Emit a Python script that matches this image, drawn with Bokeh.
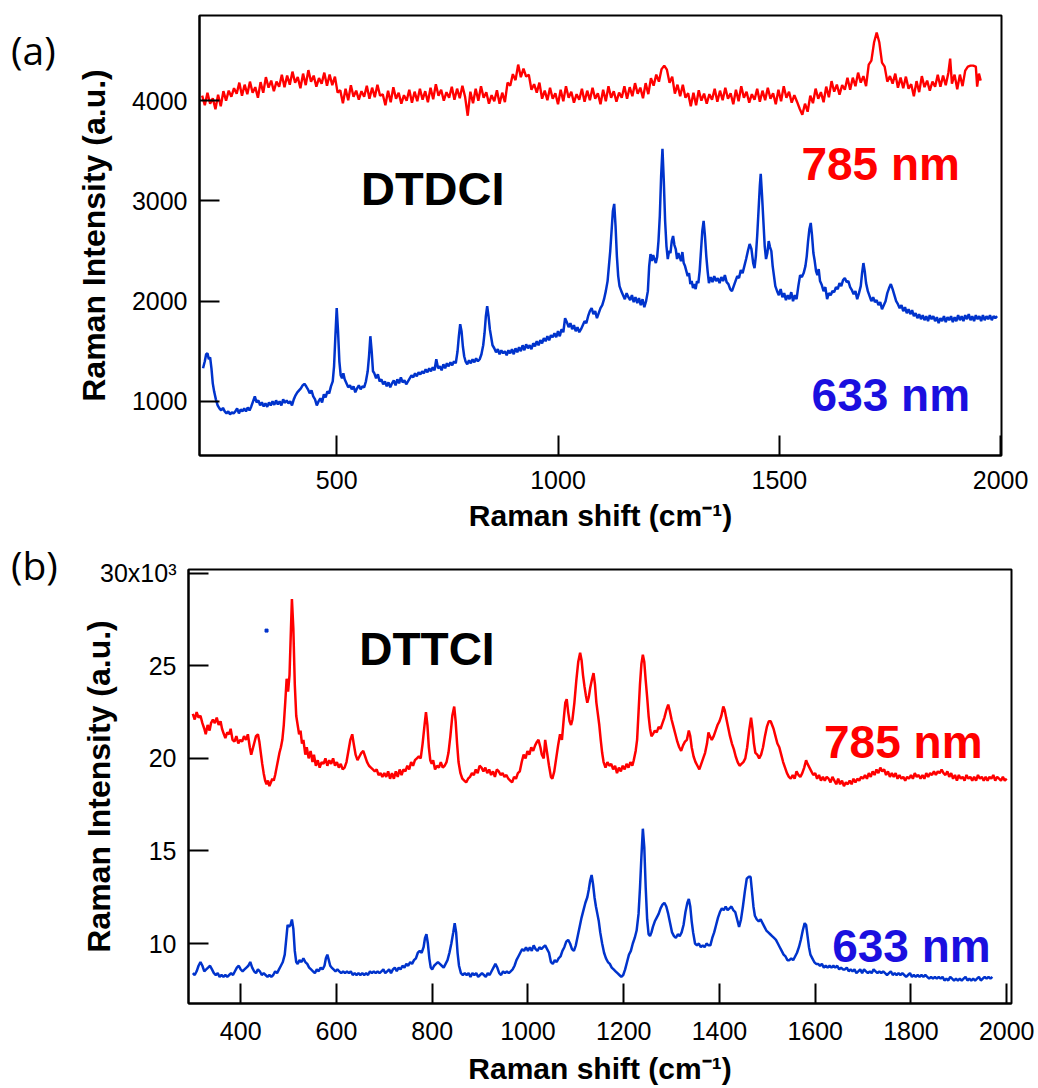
import math
from bokeh.plotting import figure
from bokeh.models import FixedTicker, Label, CustomJSTickFormatter, Range1d, Div, Title
from bokeh.layouts import row
from bokeh.embed import file_html
from bokeh.resources import INLINE

# ---------------- data ----------------
# Panel (a) DTDCI: Raman shift (cm-1) vs intensity (a.u.)
red_a = [(196,4050),(202,3955),(208,4080),(214,3970),(220,4025),(226,3915),(232,4060),(238,3945),(244,4095),(250,4000),
 (256,4100),(262,4040),(268,4125),(274,4070),(280,4180),(286,4050),(292,4160),(298,4065),(304,4190),(310,4080),
 (316,4135),(322,4030),(328,4185),(334,4080),(340,4235),(346,4130),(352,4200),(358,4095),(364,4190),(370,4140),
 (376,4260),(382,4135),(388,4250),(394,4160),(400,4290),(406,4180),(412,4235),(418,4125),(424,4270),(430,4155),
 (436,4305),(442,4190),(448,4250),(454,4140),(460,4225),(466,4170),(472,4280),(478,4150),(484,4260),(490,4155),
 (496,4240),(502,4080),(508,4105),(514,3975),(520,4120),(526,4005),(532,4155),(538,4040),(544,4100),(550,4010),
 (556,4095),(562,4040),(568,4150),(574,4020),(580,4130),(586,4035),(592,4160),(598,4050),(604,4065),(610,3955),
 (616,4100),(622,3985),(628,4135),(634,4020),(640,4080),(646,3970),(652,4055),(658,4000),(664,4110),(670,3980),
 (676,4090),(682,3995),(688,4120),(694,4010),(700,4095),(706,3985),(712,4130),(718,4015),(724,4165),(730,4050),
 (736,4110),(742,4000),(748,4085),(754,4030),(760,4140),(766,4010),(772,4120),(778,4025),(784,4150),(790,4040),
 (796,3850),(802,4090),(808,3975),(814,4120),(820,4000),(826,4145),(832,4030),(838,4085),(844,3970),(850,4055),
 (856,3995),(862,4105),(868,3970),(874,4080),(880,3985),(886,4180),(892,4150),(898,4265),(904,4205),(910,4360),
 (916,4235),(922,4320),(928,4240),(934,4260),(940,4110),(946,4165),(952,4080),(958,4180),(964,4020),(970,4100),
 (976,4005),(982,4130),(988,4020),(994,4075),(1000,3965),(1006,4110),(1012,3995),(1018,4145),(1024,4030),(1030,4090),
 (1036,3980),(1042,4065),(1048,4010),(1054,4120),(1060,3990),(1066,4100),(1072,4005),(1078,4130),(1084,4020),(1090,4075),
 (1096,3965),(1102,4110),(1108,3995),(1114,4145),(1120,4030),(1126,4095),(1132,3990),(1138,4080),(1144,4030),(1150,4145),
 (1156,4020),(1162,4135),(1168,4045),(1174,4175),(1180,4070),(1186,4130),(1192,4025),(1198,4175),(1204,4065),(1210,4225),
 (1216,4150),(1222,4260),(1228,4190),(1234,4315),(1240,4350),(1246,4310),(1252,4180),(1258,4240),(1264,4070),(1270,4160),
 (1276,4045),(1282,4160),(1288,4030),(1294,4075),(1300,3945),(1306,4080),(1312,3955),(1318,4105),(1324,4000),(1330,4070),
 (1336,3970),(1342,4065),(1348,4010),(1354,4120),(1360,3990),(1366,4100),(1372,4005),(1378,4130),(1384,4020),(1390,4075),
 (1396,3965),(1402,4110),(1408,3995),(1414,4145),(1420,4030),(1426,4090),(1432,3980),(1438,4065),(1444,4010),(1450,4120),
 (1456,3990),(1462,4100),(1468,4005),(1474,4130),(1480,4020),(1486,4075),(1492,3965),(1498,4110),(1504,3995),(1510,4145),
 (1516,4030),(1522,4090),(1528,3980),(1534,4055),(1540,3990),(1546,3920),(1552,3860),(1558,3970),(1564,3890),(1570,4050),
 (1576,3975),(1582,4120),(1588,4020),(1594,4085),(1600,3985),(1606,4140),(1612,4035),(1618,4195),(1624,4090),(1630,4160),
 (1636,4060),(1642,4155),(1648,4110),(1654,4230),(1660,4110),(1666,4230),(1672,4145),(1678,4280),(1684,4180),(1690,4245),
 (1696,4145),(1702,4360),(1708,4400),(1714,4580),(1720,4680),(1726,4580),(1732,4380),(1738,4340),(1744,4190),(1750,4245),
 (1756,4170),(1762,4270),(1768,4130),(1774,4230),(1780,4125),(1786,4240),(1792,4120),(1798,4165),(1804,4045),(1810,4195),
 (1816,4085),(1822,4245),(1828,4135),(1834,4200),(1840,4100),(1846,4190),(1852,4140),(1858,4260),(1864,4140),(1870,4250),
 (1876,4155),(1882,4280),(1886,4420),(1890,4170),(1896,4260),(1902,4115),(1908,4260),(1914,4145),(1920,4300),(1926,4340),
 (1932,4350),(1938,4350),(1944,4340),(1947,4140),(1951,4270),(1955,4200)]

blue_a = [(198,1330),(202,1400),(205,1470),(208,1480),(211,1420),(214,1440),(217,1330),(220,1180),(223,1100),(227,1020),
 (231,960),(235,930),(239,910),(243,935),(247,900),(251,880),(255,900),(259,870),(263,890),(267,880),
 (271,900),(275,930),(279,880),(283,920),(287,900),(291,930),(295,900),(299,940),(303,910),(307,950),
 (311,1000),(315,1050),(319,990),(323,1010),(327,960),(331,990),(335,950),(339,980),(343,945),(347,990),
 (351,960),(355,1000),(359,965),(363,1010),(367,970),(371,1000),(375,960),(379,1020),(383,985),(387,1010),
 (391,980),(395,1000),(399,960),(403,1020),(407,1060),(411,1090),(415,1110),(419,1130),(423,1160),(427,1175),
 (431,1150),(435,1120),(439,1080),(443,1110),(447,1050),(451,1020),(455,960),(459,1000),(463,1030),(467,990),
 (471,1070),(475,1040),(479,1100),(483,1080),(487,1150),(491,1200),(494,1350),(497,1650),(500,1930),(503,1700),
 (506,1400),(509,1260),(512,1230),(515,1280),(518,1220),(522,1180),(526,1140),(530,1160),(534,1120),(538,1150),
 (542,1090),(546,1130),(550,1160),(554,1120),(558,1150),(562,1140),(566,1200),(570,1300),(573,1450),(576,1650),
 (579,1500),(582,1300),(585,1280),(589,1230),(593,1270),(597,1200),(601,1220),(605,1170),(609,1200),(613,1150),
 (617,1190),(621,1140),(625,1180),(629,1210),(633,1160),(637,1220),(641,1180),(645,1240),(649,1190),(653,1210),
 (657,1170),(661,1200),(665,1230),(669,1260),(673,1240),(677,1280),(681,1250),(685,1290),(689,1270),(693,1300),
 (697,1280),(701,1320),(705,1290),(709,1330),(713,1300),(717,1340),(721,1310),(725,1420),(729,1330),(733,1350),
 (737,1310),(741,1370),(745,1330),(749,1380),(753,1350),(757,1390),(761,1360),(765,1400),(769,1380),(773,1500),
 (776,1650),(779,1770),(782,1700),(785,1550),(788,1450),(791,1400),(795,1370),(799,1410),(803,1380),(807,1420),
 (811,1390),(815,1430),(819,1400),(823,1420),(827,1470),(831,1560),(834,1680),(837,1850),(840,1950),(843,1850),
 (846,1720),(849,1640),(852,1560),(856,1530),(860,1490),(864,1520),(868,1470),(872,1510),(876,1480),(880,1500),
 (884,1460),(888,1510),(892,1480),(896,1520),(900,1470),(904,1530),(908,1490),(912,1540),(916,1500),(920,1560),
 (924,1510),(928,1570),(932,1530),(936,1560),(940,1520),(944,1580),(948,1550),(952,1600),(956,1560),(960,1610),
 (964,1580),(968,1630),(972,1600),(976,1650),(980,1610),(984,1660),(988,1640),(992,1680),(996,1640),(1000,1700),
 (1004,1650),(1008,1720),(1012,1690),(1016,1830),(1020,1790),(1024,1740),(1028,1780),(1032,1720),(1036,1760),(1040,1700),
 (1044,1740),(1048,1690),(1052,1720),(1056,1760),(1060,1800),(1064,1780),(1068,1850),(1072,1900),(1076,1930),(1080,1870),
 (1084,1900),(1088,1830),(1092,1880),(1096,1930),(1100,1960),(1104,2020),(1108,2100),(1112,2200),(1115,2350),(1118,2500),
 (1121,2700),(1124,2900),(1127,2970),(1130,2750),(1133,2450),(1136,2250),(1139,2150),(1143,2100),(1147,2060),(1151,2020),
 (1155,2080),(1159,2040),(1163,2010),(1167,2060),(1171,1990),(1175,2040),(1179,1980),(1183,2030),(1187,1960),(1191,2020),
 (1195,1940),(1199,2000),(1203,2100),(1206,2350),(1209,2470),(1212,2400),(1215,2460),(1218,2420),(1221,2380),(1224,2440),
 (1227,2600),(1230,2850),(1233,3250),(1236,3520),(1239,3200),(1242,2800),(1245,2550),(1248,2420),(1251,2500),(1254,2480),
 (1257,2600),(1260,2650),(1263,2560),(1266,2520),(1269,2420),(1272,2480),(1275,2440),(1278,2400),(1281,2490),(1284,2380),
 (1287,2350),(1290,2300),(1293,2250),(1296,2280),(1299,2170),(1302,2200),(1305,2130),(1308,2170),(1311,2120),(1314,2200),
 (1317,2180),(1320,2300),(1323,2500),(1326,2700),(1329,2800),(1332,2650),(1335,2450),(1338,2300),(1341,2180),(1345,2240),
 (1349,2190),(1353,2250),(1357,2200),(1361,2230),(1365,2180),(1369,2240),(1373,2200),(1377,2260),(1381,2190),(1385,2170),
 (1389,2120),(1393,2100),(1397,2150),(1401,2200),(1405,2250),(1409,2230),(1413,2310),(1417,2280),(1421,2350),(1425,2420),
 (1429,2500),(1433,2570),(1437,2520),(1441,2380),(1444,2330),(1447,2450),(1450,2650),(1453,2900),(1456,3150),(1458,3270),
 (1461,3050),(1464,2800),(1467,2550),(1470,2420),(1473,2480),(1476,2600),(1479,2540),(1482,2500),(1485,2350),(1488,2250),
 (1491,2150),(1495,2100),(1499,2060),(1503,2120),(1507,2040),(1511,2080),(1515,2010),(1519,2060),(1523,2020),(1527,2090),
 (1531,2000),(1535,2060),(1539,2020),(1543,2150),(1547,2260),(1551,2240),(1555,2280),(1559,2350),(1562,2450),(1565,2600),
 (1568,2720),(1571,2780),(1574,2650),(1577,2480),(1580,2400),(1583,2300),(1586,2260),(1589,2320),(1592,2200),(1596,2160),
 (1600,2100),(1604,2140),(1608,2020),(1612,2080),(1616,2060),(1620,2100),(1624,2090),(1628,2140),(1632,2120),(1636,2180),
 (1640,2150),(1644,2210),(1648,2230),(1652,2190),(1656,2200),(1660,2140),(1664,2110),(1668,2070),(1672,2100),(1676,2020),
 (1680,2080),(1684,2150),(1687,2280),(1690,2380),(1693,2300),(1696,2180),(1700,2100),(1704,2050),(1708,2000),(1712,2040),
 (1716,1990),(1720,2010),(1724,1960),(1728,1990),(1732,1920),(1736,1960),(1740,2000),(1744,2080),(1748,2130),(1752,2170),
 (1756,2120),(1760,2060),(1764,2000),(1768,1970),(1772,1930),(1776,1960),(1780,1900),(1784,1940),(1788,1880),(1792,1920),
 (1796,1870),(1800,1910),(1804,1850),(1808,1880),(1812,1830),(1816,1870),(1820,1820),(1824,1860),(1828,1810),(1832,1850),
 (1836,1800),(1840,1860),(1844,1820),(1848,1850),(1852,1800),(1856,1840),(1860,1780),(1864,1830),(1868,1800),(1872,1850),
 (1876,1790),(1880,1840),(1884,1810),(1888,1850),(1892,1790),(1896,1840),(1900,1800),(1904,1860),(1908,1810),(1912,1850),
 (1916,1800),(1920,1860),(1924,1820),(1928,1870),(1932,1810),(1936,1850),(1940,1800),(1944,1860),(1948,1820),(1952,1850),
 (1956,1800),(1960,1860),(1964,1810),(1968,1850),(1972,1820),(1976,1860),(1980,1810),(1984,1850),(1988,1830),(1992,1850)]

# Panel (b) DTTCI: intensity in units of 10^3
red_b = [(300,22.4),(304,22.1),(308,22.5),(312,22.2),(316,22.3),(320,21.9),(324,21.6),(327,21.3),(331,21.8),(335,21.5),
 (338,21.9),(342,22.1),(346,21.9),(350,22.2),(354,21.8),(358,22.0),(361,21.6),(365,21.3),(368,21.1),(372,21.4),
 (376,21.3),(379,21.6),(383,21.0),(387,20.9),(391,21.2),(395,20.8),(399,21.0),(403,20.9),(407,21.2),(411,21.0),
 (415,21.3),(419,20.6),(422,20.2),(425,20.5),(429,20.9),(432,21.2),(436,21.3),(439,20.9),(442,20.3),(445,19.7),
 (448,19.2),(451,18.8),(454,18.6),(457,18.8),(460,18.5),(463,18.7),(466,18.9),(469,18.8),(472,19.1),(475,19.5),
 (478,19.9),(481,20.3),(484,20.6),(487,21.0),(490,21.8),(493,23.0),(496,24.3),(499,23.6),(502,24.5),(505,27.0),
 (507,28.6),(510,27.0),(513,24.0),(516,22.3),(519,21.8),(522,21.3),(525,21.5),(528,20.8),(531,21.0),(535,20.2),
 (538,20.6),(542,20.0),(546,20.4),(550,19.8),(553,20.2),(557,19.6),(561,19.9),(565,19.5),(569,19.8),(573,19.7),
 (577,20.0),(581,19.6),(585,19.9),(589,19.7),(593,20.0),(597,19.6),(601,19.8),(605,19.5),(609,19.7),(613,19.4),
 (617,19.5),(621,19.8),(625,20.4),(629,21.0),(633,21.3),(636,20.8),(640,20.2),(644,19.9),(648,20.1),(652,20.3),
 (656,20.4),(660,20.1),(664,19.8),(668,19.6),(672,19.5),(676,19.4),(680,19.3),(684,19.4),(688,19.1),(692,19.2),
 (696,19.0),(700,19.2),(704,19.0),(708,19.3),(712,18.9),(716,19.2),(720,18.9),(724,19.3),(728,19.0),(732,19.4),
 (736,19.1),(740,19.4),(744,19.3),(748,19.6),(752,19.4),(756,19.8),(760,19.6),(764,19.9),(768,20.0),(772,20.1),
 (776,20.0),(780,20.8),(784,21.8),(787,22.5),(790,21.8),(793,20.6),(796,19.9),(799,19.7),(802,19.9),(806,19.4),
 (810,19.6),(814,19.5),(818,19.8),(822,19.5),(826,19.6),(830,19.8),(834,20.3),(838,21.2),(842,22.3),(846,22.8),
 (849,22.0),(852,20.8),(855,19.8),(859,19.2),(863,18.9),(867,18.8),(871,18.7),(875,18.9),(879,19.0),(883,19.2),
 (887,19.1),(891,19.4),(895,19.2),(899,19.6),(903,19.5),(907,19.3),(911,19.5),(915,19.2),(919,19.4),(923,19.1),
 (927,19.3),(931,19.0),(935,19.4),(939,19.3),(943,19.1),(947,19.2),(951,19.0),(955,19.1),(959,18.9),(963,18.8),
 (967,18.7),(971,19.0),(975,18.9),(979,19.2),(983,19.3),(987,19.8),(991,20.2),(995,20.0),(999,20.4),(1003,20.2),
 (1007,20.6),(1011,20.4),(1015,20.7),(1019,20.9),(1022,21.0),(1026,20.6),(1029,20.2),(1033,20.0),(1036,21.0),(1040,20.3),
 (1044,19.6),(1048,19.0),(1051,18.9),(1055,19.3),(1059,20.0),(1063,20.7),(1067,21.3),(1071,21.0),(1075,22.2),(1078,23.0),
 (1081,23.2),(1084,22.5),(1087,22.0),(1090,21.8),(1093,22.1),(1097,23.0),(1101,24.2),(1105,25.2),(1109,25.7),(1112,25.3),
 (1115,24.5),(1118,23.9),(1121,23.4),(1124,23.0),(1127,23.3),(1130,23.8),(1134,24.3),(1137,24.6),(1140,24.0),(1143,23.0),
 (1146,22.4),(1149,21.8),(1152,21.0),(1155,20.3),(1158,19.8),(1162,19.5),(1166,19.8),(1170,19.6),(1174,19.7),(1178,19.4),
 (1182,19.6),(1186,19.2),(1190,19.5),(1194,19.3),(1198,19.6),(1202,19.4),(1206,19.7),(1210,19.5),(1214,19.8),(1218,19.6),
 (1221,19.9),(1225,20.4),(1228,21.0),(1231,22.5),(1234,24.0),(1237,25.1),(1240,25.6),(1243,25.2),(1246,24.2),(1249,23.3),
 (1252,22.3),(1255,21.6),(1258,21.2),(1261,21.3),(1265,21.5),(1269,21.4),(1273,21.7),(1277,21.6),(1281,21.9),(1285,22.2),
 (1289,22.6),(1293,22.9),(1296,22.6),(1300,22.1),(1304,21.7),(1308,21.3),(1312,20.9),(1316,20.6),(1320,20.4),(1324,20.7),
 (1328,20.9),(1332,21.0),(1336,21.5),(1339,21.2),(1342,20.6),(1346,20.1),(1350,19.8),(1354,19.6),(1358,19.4),(1362,19.7),
 (1366,20.0),(1370,20.3),(1374,20.8),(1377,21.4),(1380,21.2),(1384,21.0),(1388,21.2),(1392,21.5),(1396,21.8),(1400,22.0),
 (1404,22.3),(1408,22.8),(1411,22.6),(1414,22.2),(1418,21.7),(1422,21.2),(1426,20.8),(1430,20.5),(1434,20.1),(1438,19.8),
 (1442,19.6),(1446,19.7),(1450,19.8),(1454,20.0),(1458,20.6),(1462,21.5),(1466,22.2),(1469,21.6),(1472,20.8),(1475,20.3),
 (1479,20.2),(1483,20.0),(1487,20.2),(1491,20.6),(1495,21.2),(1499,21.7),(1503,22.0),(1507,22.0),(1510,21.8),(1513,21.6),
 (1517,21.2),(1521,20.8),(1525,20.6),(1529,20.2),(1533,19.8),(1537,19.5),(1541,19.2),(1545,19.0),(1549,18.9),(1553,19.1),
 (1557,18.9),(1561,19.3),(1565,19.1),(1569,19.0),(1573,19.2),(1577,19.5),(1581,19.9),(1584,19.7),(1588,19.5),(1592,19.3),
 (1596,19.1),(1600,19.2),(1604,18.9),(1608,19.1),(1612,18.8),(1616,19.0),(1620,18.8),(1624,19.0),(1628,18.9),(1632,18.7),
 (1636,19.0),(1640,18.8),(1644,18.6),(1648,18.9),(1652,18.6),(1656,18.8),(1660,18.5),(1664,18.7),(1668,18.6),(1672,18.8),
 (1676,18.6),(1680,18.9),(1684,18.7),(1688,18.9),(1692,18.8),(1696,19.0),(1700,18.9),(1704,19.1),(1708,18.9),(1712,19.2),
 (1716,19.0),(1720,19.3),(1724,19.1),(1728,19.4),(1732,19.2),(1736,19.5),(1740,19.3),(1744,19.4),(1748,19.1),(1752,19.3),
 (1756,19.0),(1760,19.2),(1764,19.0),(1768,19.2),(1772,18.9),(1776,19.1),(1780,18.9),(1784,19.0),(1788,18.8),(1792,19.0),
 (1796,18.9),(1800,19.1),(1804,18.9),(1808,19.2),(1812,19.0),(1816,19.1),(1820,18.9),(1824,19.1),(1828,18.9),(1832,19.2),
 (1836,19.0),(1840,19.2),(1844,19.1),(1848,19.3),(1852,19.1),(1856,19.3),(1860,19.2),(1864,19.4),(1868,19.2),(1872,19.1),
 (1876,19.3),(1880,19.0),(1884,19.2),(1888,18.9),(1892,19.1),(1896,18.8),(1900,19.1),(1904,18.9),(1908,19.0),(1912,18.8),
 (1916,19.1),(1920,18.9),(1924,19.0),(1928,18.8),(1932,19.0),(1936,18.8),(1940,19.1),(1944,18.9),(1948,19.0),(1952,18.8),
 (1956,19.0),(1960,18.8),(1964,19.0),(1968,18.9),(1972,19.1),(1976,18.8),(1980,19.0),(1984,18.9),(1988,18.8),(1992,19.0),
 (1996,18.8),(2000,18.9)]

blue_b = [(300,8.4),(304,8.3),(308,8.5),(312,8.8),(316,9.0),(320,8.8),(324,8.5),(328,8.6),(332,8.7),(336,8.8),
 (340,8.6),(344,8.4),(348,8.3),(352,8.4),(356,8.2),(360,8.3),(364,8.2),(368,8.3),(372,8.2),(376,8.3),
 (380,8.4),(384,8.3),(388,8.5),(392,8.7),(396,8.8),(400,8.6),(404,8.5),(408,8.6),(412,8.7),(416,8.8),
 (420,9.0),(424,8.7),(428,8.5),(432,8.4),(436,8.6),(440,8.5),(444,8.3),(448,8.4),(452,8.3),(456,8.2),
 (460,8.3),(464,8.2),(468,8.3),(472,8.5),(476,8.4),(480,8.6),(484,8.8),(488,9.0),(492,9.4),(495,10.2),
 (498,11.0),(501,10.9),(504,11.0),(507,11.3),(510,10.8),(513,9.6),(516,9.0),(519,8.9),(523,9.1),(527,9.0),
 (531,9.2),(535,9.0),(539,8.9),(543,8.7),(547,8.6),(551,8.5),(555,8.4),(559,8.6),(563,8.5),(567,8.7),
 (571,8.6),(575,8.8),(578,9.2),(581,9.4),(584,9.1),(587,8.8),(590,8.7),(594,8.6),(598,8.5),(602,8.6),
 (606,8.5),(610,8.4),(614,8.5),(618,8.4),(622,8.5),(626,8.4),(630,8.5),(634,8.3),(638,8.4),(642,8.3),
 (646,8.4),(650,8.3),(654,8.4),(658,8.3),(662,8.4),(666,8.3),(670,8.5),(674,8.4),(678,8.5),(682,8.4),
 (686,8.5),(690,8.4),(694,8.5),(698,8.6),(702,8.4),(706,8.5),(710,8.6),(714,8.4),(718,8.6),(722,8.7),
 (726,8.5),(730,8.7),(734,8.6),(738,8.8),(742,8.7),(746,8.9),(750,8.8),(754,9.0),(758,8.9),(762,9.1),
 (766,9.2),(770,9.5),(774,9.6),(778,9.5),(782,9.8),(785,10.3),(788,10.5),(791,10.0),(794,9.2),(797,8.7),
 (800,8.6),(804,8.8),(808,8.9),(812,9.0),(816,8.9),(820,8.8),(824,8.7),(828,8.9),(832,9.1),(836,9.5),
 (840,10.0),(844,10.6),(847,11.1),(850,10.6),(853,9.5),(856,8.8),(860,8.4),(864,8.3),(868,8.4),(872,8.3),
 (876,8.4),(880,8.2),(884,8.4),(888,8.3),(892,8.4),(896,8.2),(900,8.3),(904,8.4),(908,8.3),(912,8.2),
 (916,8.4),(920,8.3),(924,8.5),(928,8.7),(932,8.9),(936,8.7),(940,8.4),(944,8.3),(948,8.5),(952,8.4),
 (956,8.5),(960,8.4),(964,8.5),(968,8.6),(972,8.8),(976,9.1),(980,9.3),(984,9.5),(988,9.7),(992,9.6),
 (996,9.8),(1000,9.6),(1004,9.8),(1008,9.6),(1012,9.9),(1016,9.7),(1020,9.6),(1024,9.8),(1028,9.7),(1032,9.8),
 (1036,9.9),(1040,9.7),(1044,9.5),(1048,9.0),(1052,8.9),(1056,9.1),(1060,9.0),(1064,9.2),(1068,9.3),(1072,9.6),
 (1076,9.8),(1080,10.1),(1084,10.2),(1088,10.0),(1092,9.7),(1096,9.6),(1100,9.9),(1104,10.4),(1108,10.9),(1112,11.4),
 (1116,11.8),(1120,12.2),(1124,12.5),(1127,12.9),(1130,13.4),(1133,13.7),(1136,13.2),(1139,12.5),(1142,12.0),(1145,11.6),
 (1148,11.2),(1151,10.6),(1155,10.0),(1159,9.5),(1163,9.2),(1167,9.0),(1171,8.9),(1175,8.7),(1179,8.6),(1183,8.5),
 (1187,8.4),(1191,8.3),(1195,8.2),(1199,8.3),(1203,8.6),(1207,9.0),(1211,9.4),(1215,9.6),(1219,10.0),(1223,10.3),
 (1227,10.7),(1231,11.6),(1234,13.0),(1237,14.7),(1240,16.2),(1243,15.2),(1246,13.0),(1249,11.3),(1252,10.5),(1255,10.4),
 (1258,10.6),(1261,10.9),(1265,11.2),(1269,11.4),(1273,11.6),(1277,11.9),(1281,12.1),(1285,12.2),(1289,12.0),(1293,11.6),
 (1297,11.1),(1301,10.6),(1305,10.4),(1309,10.3),(1313,10.5),(1317,10.4),(1321,10.6),(1325,11.0),(1329,11.7),(1333,12.2),
 (1336,12.4),(1339,12.0),(1342,11.2),(1345,10.6),(1349,10.0),(1353,9.9),(1357,10.0),(1361,9.8),(1365,9.9),(1369,9.8),
 (1373,10.0),(1377,9.9),(1381,9.9),(1385,10.3),(1389,10.6),(1393,11.0),(1397,11.4),(1401,11.7),(1405,11.9),(1409,11.8),
 (1413,12.0),(1417,11.8),(1421,11.9),(1425,12.0),(1429,11.8),(1433,11.7),(1437,11.3),(1441,10.9),(1445,11.3),(1449,12.0),
 (1453,12.8),(1457,13.5),(1461,13.6),(1465,13.6),(1468,12.8),(1471,12.0),(1474,11.5),(1478,11.3),(1482,11.2),(1486,11.3),
 (1490,11.1),(1494,10.9),(1498,10.7),(1502,10.6),(1506,10.5),(1510,10.4),(1514,10.3),(1518,10.2),(1522,10.0),(1526,9.8),
 (1530,9.6),(1534,9.4),(1538,9.3),(1542,9.1),(1546,9.1),(1550,9.2),(1554,9.1),(1558,9.3),(1562,9.5),(1566,9.8),
 (1570,10.2),(1574,10.7),(1578,11.1),(1581,11.0),(1584,10.4),(1587,9.8),(1590,9.4),(1594,9.2),(1598,9.0),(1602,8.9),
 (1606,8.9),(1610,8.8),(1614,8.9),(1618,8.7),(1622,8.8),(1626,8.7),(1630,8.8),(1634,8.7),(1638,8.8),(1642,8.7),
 (1646,8.8),(1650,8.6),(1654,8.7),(1658,8.6),(1662,8.6),(1666,8.7),(1670,8.5),(1674,8.6),(1678,8.5),(1682,8.6),
 (1686,8.4),(1690,8.5),(1694,8.6),(1698,8.4),(1702,8.6),(1706,8.5),(1710,8.4),(1714,8.5),(1718,8.4),(1722,8.6),
 (1726,8.5),(1730,8.4),(1734,8.5),(1738,8.4),(1742,8.5),(1746,8.4),(1750,8.3),(1754,8.4),(1758,8.5),(1762,8.3),
 (1766,8.4),(1770,8.3),(1774,8.4),(1778,8.3),(1782,8.4),(1786,8.3),(1790,8.2),(1794,8.3),(1798,8.4),(1802,8.2),
 (1806,8.3),(1810,8.2),(1814,8.3),(1818,8.2),(1822,8.3),(1826,8.2),(1830,8.3),(1834,8.2),(1838,8.1),(1842,8.2),
 (1846,8.1),(1850,8.2),(1854,8.1),(1858,8.2),(1862,8.1),(1866,8.2),(1870,8.0),(1874,8.1),(1878,8.0),(1882,8.2),
 (1886,8.1),(1890,8.0),(1894,8.1),(1898,8.0),(1902,8.1),(1906,8.0),(1910,8.1),(1914,8.2),(1918,8.0),(1922,8.1),
 (1926,8.0),(1930,8.1),(1934,8.0),(1938,8.1),(1942,8.2),(1946,8.0),(1950,8.1),(1954,8.2),(1958,8.1),(1962,8.2),
 (1966,8.1),(1970,8.2)]

blue_b_stray = [(454, 26.9)]

xticks_a = [500, 1000, 1500, 2000]
yticks_a = [1000, 2000, 3000, 4000]
xticks_b = [400, 600, 800, 1000, 1200, 1400, 1600, 1800, 2000]
yticks_b = [10, 15, 20, 25, 30]

RED = "#FF0000"
BLUE = "#0033CC"
BLUE_TXT = "#1A0FDF"
FONT = "Liberation Sans, Arial, sans-serif"
XLABEL = "Raman shift (cm\u207b\u00b9)"
YLABEL = "Raman Intensity (a.u.)"
DIV_W = 57


def unzip(pts):
    return [p[0] for p in pts], [p[1] for p in pts]


def style(p, xt, yt, xstand, lstand):
    p.xaxis.ticker = FixedTicker(ticks=xt)
    p.yaxis.ticker = FixedTicker(ticks=yt)
    for ax in (p.xaxis[0], p.yaxis[0]):
        ax.axis_line_width = 2
        ax.axis_line_color = "black"
        ax.major_tick_line_width = 2
        ax.major_tick_line_color = "black"
        ax.major_tick_in = 20
        ax.major_tick_out = 0
        ax.minor_tick_line_color = None
        ax.major_label_text_font = FONT
        ax.major_label_text_font_size = "25px"
        ax.major_label_text_color = "black"
    p.xaxis.major_label_standoff = xstand
    p.yaxis.major_label_standoff = 12
    p.xaxis.axis_label = XLABEL
    p.xaxis.axis_label_text_font = FONT
    p.xaxis.axis_label_text_font_size = "30px"
    p.xaxis.axis_label_text_font_style = "bold"
    p.xaxis.axis_label_text_color = "black"
    p.xaxis.axis_label_standoff = lstand
    p.xgrid.visible = False
    p.ygrid.visible = False
    p.outline_line_color = "black"
    p.outline_line_width = 2
    p.background_fill_color = "white"
    p.border_fill_color = "white"


def txt(p, x, y, text, size, color="black"):
    p.add_layout(Label(x=x, y=y, text=text, text_font=FONT, text_font_size=size,
                       text_font_style="bold", text_color=color, text_align="center",
                       text_baseline="alphabetic"))


def panel_tag(text, pad_top, height):
    html = ('<div style="font-family:\'Open Sans\',Lato,sans-serif;font-size:39px;line-height:39px;'
            'color:black;padding-top:%dpx;padding-left:11px;white-space:nowrap;">%s</div>' % (pad_top, text))
    return Div(text=html, width=DIV_W, height=height, margin=0)


# ---------------- panel (a) ----------------
pa = figure(frame_width=802, frame_height=440, min_border_left=199 - DIV_W, min_border_right=37,
            min_border_top=15, min_border_bottom=85, output_backend="svg", toolbar_location=None,
            x_range=Range1d(190, 2002), y_range=Range1d(460, 4850))
style(pa, xticks_a, yticks_a, 15, 7)
x, y = unzip(red_a)
pa.line(x, y, line_color=RED, line_width=2.4)
x, y = unzip(blue_a)
pa.line(x, y, line_color=BLUE, line_width=2.5)
txt(pa, 717, 3120, "DTDCI", "47px")
txt(pa, 1729, 3370, "785 nm", "46px", RED)
txt(pa, 1752, 1060, "633 nm", "46px", BLUE_TXT)
pa.add_layout(Title(text=YLABEL, align="center", offset=62, standoff=33, text_font=FONT,
                    text_font_size="32px", text_font_style="bold", text_color="black"), "left")

# ---------------- panel (b) ----------------
pb = figure(frame_width=823, frame_height=434, min_border_left=188 - DIV_W, min_border_right=27,
            min_border_top=29, min_border_bottom=85, output_backend="svg", toolbar_location=None,
            x_range=Range1d(291, 2010), y_range=Range1d(6.76, 30.2))
style(pb, xticks_b, yticks_b, 18, 9)
pb.yaxis.formatter = CustomJSTickFormatter(code="return tick == 30 ? '30x10\u00b3' : tick.toFixed(0);")
pb.yaxis.axis_label = YLABEL
pb.yaxis.axis_label_text_font = FONT
pb.yaxis.axis_label_text_font_size = "32px"
pb.yaxis.axis_label_text_font_style = "bold"
pb.yaxis.axis_label_text_color = "black"
pb.yaxis.axis_label_standoff = -20
x, y = unzip(red_b)
pb.line(x, y, line_color=RED, line_width=2.5)
x, y = unzip(blue_b)
pb.line(x, y, line_color=BLUE, line_width=2.5)
x, y = unzip(blue_b_stray)
pb.scatter(x, y, marker="square", size=3, color=BLUE)
txt(pb, 789, 25.89, "DTTCI", "46px")
txt(pb, 1784, 20.86, "785 nm", "46px", RED)
txt(pb, 1801, 9.89, "633 nm", "46px", BLUE_TXT)

top = row(panel_tag("(a)", 30, 540), pa)
bottom = row(panel_tag("(b)", 5, 548), pb)
open("out.html", "w").write(file_html([top, bottom], INLINE))
